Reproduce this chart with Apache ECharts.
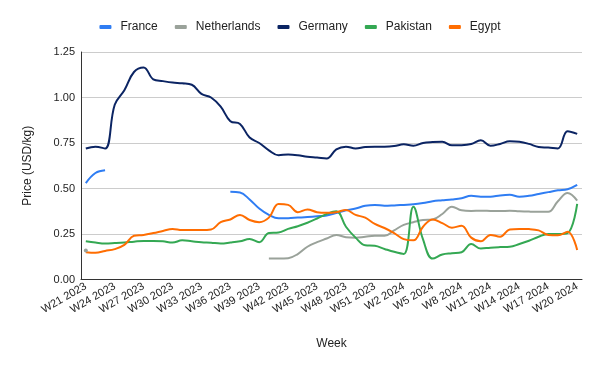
<!DOCTYPE html>
<html><head><meta charset="utf-8">
<script src="https://cdn.jsdelivr.net/npm/echarts@6/dist/echarts.min.js"></script>
<style>html,body{margin:0;padding:0;background:#fff}#c{width:600px;height:371px}</style>
</head><body><div id="c"></div>
<script>
var weeks = [];
for (var w = 21; w <= 52; w++) weeks.push('W' + w + ' 2023');
for (var w2 = 1; w2 <= 20; w2++) weeks.push('W' + w2 + ' 2024');

var france = [0.53,0.585,0.60,null,null,null,null,null,null,null,null,null,null,null,null,
  0.482,0.478,0.44,0.39,0.355,0.336,0.337,0.34,0.343,0.347,0.352,0.365,0.38,0.39,0.405,0.41,0.405,
  0.407,0.41,0.413,0.42,0.43,0.435,0.44,0.447,0.46,0.455,0.455,0.462,0.465,0.455,0.46,0.47,0.48,0.49,0.496,0.52];
var netherlands = [0.16,null,null,null,null,null,null,null,null,null,null,null,null,null,null,null,null,null,null,
  0.115,0.115,0.117,0.14,0.18,0.205,0.225,0.245,0.232,0.23,0.235,0.24,0.24,
  0.27,0.30,0.315,0.327,0.33,0.36,0.40,0.38,0.377,0.378,0.377,0.376,0.378,0.375,0.373,0.372,0.372,0.43,0.475,0.433];
var germany = [0.72,0.73,0.72,0.96,1.04,1.14,1.165,1.10,1.09,1.082,1.078,1.07,1.02,1.00,0.95,0.87,0.855,0.78,
  0.75,0.71,0.683,0.687,0.683,0.674,0.67,0.665,0.715,0.73,0.72,0.728,0.73,0.73,
  0.733,0.743,0.735,0.75,0.755,0.757,0.737,0.738,0.745,0.765,0.735,0.745,0.76,0.757,0.745,0.728,0.725,0.72,0.815,0.80];
var pakistan = [0.21,0.203,0.198,0.2,0.203,0.208,0.212,0.212,0.21,0.203,0.215,0.21,0.205,0.202,0.198,0.203,0.21,0.222,
  0.205,0.255,0.258,0.278,0.293,0.312,0.335,0.36,0.375,0.29,0.23,0.188,0.185,0.168,
  0.152,0.14,0.40,0.22,0.115,0.137,0.144,0.15,0.195,0.17,0.175,0.178,0.18,0.195,0.213,0.235,0.25,0.25,0.255,0.415];
var egypt = [0.15,0.147,0.157,0.167,0.19,0.24,0.245,0.255,0.267,0.278,0.272,0.272,0.272,0.275,0.315,0.33,0.355,0.327,
  0.315,0.34,0.415,0.41,0.37,0.385,0.37,0.367,0.37,0.382,0.355,0.34,0.305,0.283,
  0.255,0.222,0.215,0.29,0.33,0.31,0.285,0.295,0.23,0.21,0.245,0.235,0.275,0.278,0.277,0.27,0.245,0.243,0.262,0.162];
var yTicks = [0, 0.25, 0.5, 0.75, 1.0, 1.25];

var names = ['France','Netherlands','Germany','Pakistan','Egypt'];
var colors = ['#2f7df3','#9aa29a','#0b2463','#34a853','#ff6d01'];
var arrays = [france, netherlands, germany, pakistan, egypt];

function toData(arr, color) {
  return arr.map(function (v, i) {
    var prev = i > 0 ? arr[i - 1] : null, next = i < arr.length - 1 ? arr[i + 1] : null;
    if (v != null && prev == null && next == null) {
      return { value: v, symbol: 'circle', symbolSize: 4, itemStyle: { color: color } };
    }
    return v;
  });
}

var chart = echarts.init(document.getElementById('c'));
chart.setOption({
  animation: false,
  color: colors,
  legend: {
    top: 16, left: 'center', icon: 'roundRect', itemWidth: 12, itemHeight: 4, itemGap: 17,
    textStyle: { fontFamily: 'Liberation Sans, Arial', fontSize: 12, color: '#222', padding: [0,0,0,4] },
    data: names
  },
  grid: { left: 81, right: 18, top: 52, bottom: 91.5, containLabel: false },
  xAxis: {
    type: 'category', data: weeks, boundaryGap: true,
    name: 'Week', nameLocation: 'middle', nameGap: 58,
    nameTextStyle: { fontFamily: 'Liberation Sans, Arial', fontSize: 12, color: '#222' },
    axisLine: { lineStyle: { color: '#333', width: 1 } },
    axisTick: { show: false },
    axisLabel: { interval: 2, rotate: 30, fontFamily: 'Liberation Sans, Arial', fontSize: 11, color: '#222', margin: 6 }
  },
  yAxis: {
    type: 'value', min: yTicks[0], max: yTicks[yTicks.length - 1], interval: 0.25,
    name: 'Price (USD/kg)', nameLocation: 'middle', nameGap: 47,
    nameTextStyle: { fontFamily: 'Liberation Sans, Arial', fontSize: 12, color: '#222' },
    axisLine: { show: true, lineStyle: { color: '#333', width: 1 } },
    axisTick: { show: false },
    splitLine: { lineStyle: { color: '#cccccc' } },
    axisLabel: { formatter: function (v) { return v.toFixed(2); }, fontFamily: 'Liberation Sans, Arial', fontSize: 11, color: '#222', margin: 6 }
  },
  series: arrays.map(function (arr, k) {
    return {
      name: names[k], type: 'line', data: toData(arr, colors[k]),
      smooth: 0.4, symbol: 'none', showSymbol: true, showAllSymbol: true, connectNulls: false,
      lineStyle: { width: 2, color: colors[k] }, itemStyle: { color: colors[k] }
    };
  })
});
</script>
</body></html>
